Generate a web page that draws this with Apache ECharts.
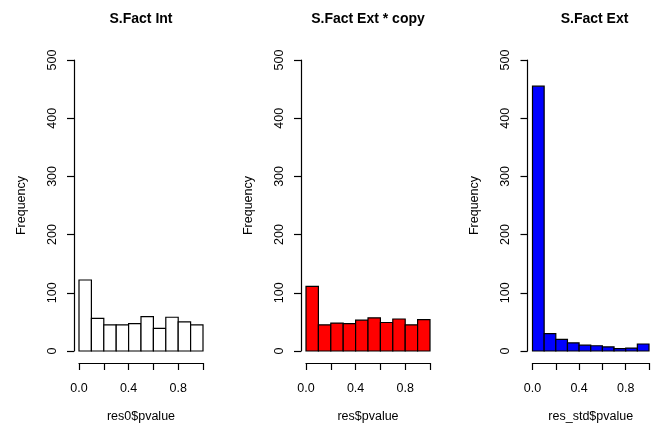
<!DOCTYPE html>
<html>
<head>
<meta charset="utf-8">
<script src="https://cdn.jsdelivr.net/npm/echarts@6/dist/echarts.min.js"></script>
<style>html,body{margin:0;padding:0;background:#fff}#c{width:652px;height:428px}</style>
</head>
<body>
<div id="c"></div>
<script>
// bin edges shared by all three histograms
var binEdges = [0, 0.1, 0.2, 0.3, 0.4, 0.5, 0.6, 0.7, 0.8, 0.9, 1.0];
var countsInt = [122, 56, 45, 45, 47, 59, 39, 58, 50, 45];
var countsExtCopy = [111, 45, 48, 47, 53, 57, 49, 55, 45, 54];
var countsExt = [455, 30, 20, 14, 10, 9, 7, 4, 5, 12];
var titles = ['S.Fact Int', 'S.Fact Ext * copy', 'S.Fact Ext'];
var xNames = ['res0$pvalue', 'res$pvalue', 'res_std$pvalue'];
var yName = 'Frequency';
var yTicks = [0, 100, 200, 300, 400, 500];
var xTicks = [0, 0.2, 0.4, 0.6, 0.8, 1.0];
var xLabelled = [0, 0.4, 0.8];

var FONT = '"Liberation Sans", Arial, Helvetica, sans-serif';
var fills = ['#ffffff', '#ff0000', '#0000ff'];
var lefts = [79, 306, 532.5];
var allCounts = [countsInt, countsExtCopy, countsExt];

function binData(counts) {
  var d = [];
  for (var i = 0; i < counts.length; i++) d.push([binEdges[i], binEdges[i + 1], counts[i]]);
  return d;
}

var grids = [], xAxes = [], yAxes = [], series = [], graphics = [];
for (var k = 0; k < 3; k++) {
  grids.push({ left: lefts[k], top: 60, width: 124, height: 291, containLabel: false });
  xAxes.push({
    gridIndex: k, type: 'value', min: xTicks[0], max: xTicks[xTicks.length - 1], interval: 0.2,
    offset: 12, splitLine: { show: false },
    axisLine: { show: true, onZero: false, lineStyle: { color: '#000', width: 1.2 } },
    axisTick: { show: true, length: 7, lineStyle: { color: '#000', width: 1.2 } },
    axisLabel: {
      margin: 19, color: '#000', fontSize: 12.5, fontFamily: FONT,
      formatter: function (v) {
        for (var j = 0; j < xLabelled.length; j++) if (Math.abs(v - xLabelled[j]) < 1e-9) return v.toFixed(1);
        return '';
      }
    },
    name: xNames[k], nameLocation: 'middle', nameGap: 47,
    nameTextStyle: { color: '#000', fontSize: 12.5, fontFamily: FONT }
  });
  yAxes.push({
    gridIndex: k, type: 'value', min: yTicks[0], max: yTicks[yTicks.length - 1], interval: 100,
    offset: 5, splitLine: { show: false },
    axisLine: { show: true, onZero: false, lineStyle: { color: '#000', width: 1.2 } },
    axisTick: { show: true, length: 7, lineStyle: { color: '#000', width: 1.2 } },
    axisLabel: { rotate: 90, margin: 15, color: '#000', fontSize: 12.5, fontFamily: FONT },
    name: yName, nameLocation: 'middle', nameGap: 46, nameRotate: 90,
    nameTextStyle: { color: '#000', fontSize: 12.5, fontFamily: FONT }
  });
  (function (fill) {
    series.push({
      type: 'custom', xAxisIndex: k, yAxisIndex: k, clip: false,
      encode: { x: [0, 1], y: 2 },
      data: binData(allCounts[k]),
      renderItem: function (params, api) {
        var p0 = api.coord([api.value(0), 0]);
        var p1 = api.coord([api.value(1), api.value(2)]);
        return {
          type: 'rect',
          shape: { x: p0[0], y: p1[1], width: p1[0] - p0[0], height: p0[1] - p1[1] },
          style: { fill: fill, stroke: '#000', lineWidth: 1.2 }
        };
      }
    });
  })(fills[k]);
  graphics.push({
    type: 'text', x: lefts[k] + 62, y: 19,
    style: { text: titles[k], fill: '#000', font: 'bold 14px ' + FONT, textAlign: 'center', textVerticalAlign: 'middle' }
  });
}

var chart = echarts.init(document.getElementById('c'), null, { renderer: 'canvas' });
chart.setOption({
  animation: false,
  backgroundColor: '#fff',
  grid: grids, xAxis: xAxes, yAxis: yAxes, series: series, graphic: graphics
});
</script>
</body>
</html>
